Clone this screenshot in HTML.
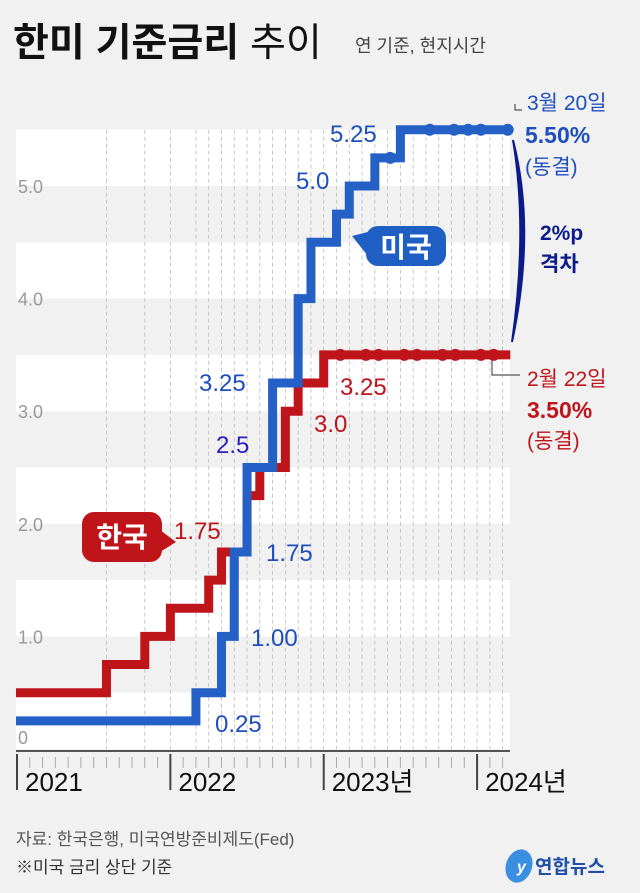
<!DOCTYPE html>
<html><head><meta charset="utf-8">
<style>
html,body{margin:0;padding:0;background:#f1f1f1;}
svg{display:block;font-family:"Liberation Sans","Noto Sans CJK KR",sans-serif;}
</style></head>
<body>
<svg id="c" width="640" height="893" viewBox="0 0 640 893">
<rect width="640" height="893" fill="#f1f1f1"/>
<g>
<text x="13" y="56" font-size="39" font-weight="bold" fill="#111">한미 기준금리 <tspan font-weight="normal">추이</tspan></text>
<text x="355" y="52" font-size="18" fill="#444">연 기준, 현지시간</text>
</g>
<g id="bands"></g>
<g id="grid"></g>
<g id="yt"></g>
<g id="xa"></g>
<g id="series"></g>
<g>
<text x="330" y="142" font-size="24" fill="#1f4fbf">5.25</text>
<text x="296" y="189" font-size="24" fill="#1f4fbf">5.0</text>
<text x="199" y="391" font-size="24" fill="#1f4fbf">3.25</text>
<text x="216" y="453" font-size="24" fill="#2a1fbf">2.5</text>
<text x="266" y="561" font-size="24" fill="#1f4fbf">1.75</text>
<text x="251" y="646" font-size="24" fill="#1f4fbf">1.00</text>
<text x="215" y="732" font-size="24" fill="#1f4fbf">0.25</text>
<text x="340" y="395" font-size="24" fill="#c0141b">3.25</text>
<text x="314" y="432" font-size="24" fill="#c0141b">3.0</text>
<text x="174" y="539" font-size="24" fill="#c0141b">1.75</text>
<g>
<path d="M352,236 L368,232 L368,256 Z" fill="#1f5fc4"/>
<rect x="366" y="226" width="80" height="40" rx="12" fill="#1f5fc4"/>
<text x="406" y="257" font-size="28" font-weight="bold" fill="#fff" text-anchor="middle">미국</text>
</g>
<g>
<path d="M176,542 L160,530 L160,552 Z" fill="#c0141b"/>
<rect x="82" y="512" width="80" height="50" rx="12" fill="#c0141b"/>
<text x="122" y="547" font-size="28" font-weight="bold" fill="#fff" text-anchor="middle">한국</text>
</g>
<path d="M515,104 L515,110 L522,110" fill="none" stroke="#555" stroke-width="1.2"/>
<text x="527" y="110" font-size="21" fill="#1f4fbf">3월 20일</text>
<text x="525" y="143" font-size="23" font-weight="bold" fill="#1f4fbf">5.50%</text>
<text x="525" y="174" font-size="21" fill="#1f4fbf">(동결)</text>
<path d="M513,140 Q536,230 512,342 Q528,230 513,140 Z" fill="#0c1a8a" stroke="#0c1a8a" stroke-width="2"/>
<text x="540" y="240" font-size="21" font-weight="bold" fill="#0c1a8a">2%p</text>
<text x="540" y="271" font-size="21" font-weight="bold" fill="#0c1a8a">격차</text>
<path d="M492,360 L492,375 L520,375" fill="none" stroke="#555" stroke-width="1.2"/>
<text x="527" y="386" font-size="21" fill="#c0141b">2월 22일</text>
<text x="527" y="418" font-size="23" font-weight="bold" fill="#c0141b">3.50%</text>
<text x="527" y="448" font-size="21" fill="#c0141b">(동결)</text>
</g>
<g>
<text x="16" y="845" font-size="17" fill="#555">자료: 한국은행, 미국연방준비제도(Fed)</text>
<text x="16" y="873" font-size="17" fill="#333">※미국 금리 상단 기준</text>
<g>
<ellipse cx="519" cy="866" rx="13" ry="17" fill="#3a8fe0" transform="rotate(20 519 866)"/>
<text x="517" y="872" font-size="16" font-style="italic" fill="#fff" font-weight="bold">y</text>
<text x="535" y="873" font-size="19" font-weight="bold" fill="#1f4fa6">연합뉴스</text>
</g>
</g>
</svg>
<script>
const yTicks=[0,1.0,2.0,3.0,4.0,5.0];
const yTickLabels=["0","1.0","2.0","3.0","4.0","5.0"];
const years=["2021","2022","2023년","2024년"];
// months since Jan 2021, rate (%)
const krMonths=[0,7,10,12,15,16,18,19,21,22,24];
const krRates=[0.5,0.75,1.0,1.25,1.5,1.75,2.25,2.5,3.0,3.25,3.5];
const usMonths=[0,14,16,17,18,20,22,23,25,26,28,30];
const usRates=[0.25,0.5,1.0,1.75,2.5,3.25,4.0,4.5,4.75,5.0,5.25,5.5];
const krHoldMonths=[25.3,27.3,28.3,30.3,31.3,33.3,34.3,36.3,37.3];
const usHoldMonths=[29.2,32.3,34.2,35.3,36.3,38.4];
const usDotRate=[5.25,5.5,5.5,5.5,5.5,5.5];
const gridMonths=[7,10,12,14,15,16,17,18,19,20,21,22,23,24,25,26,27,28,29,30,31,32,33,34,35,36,37,38];
const endMonth=38.6;
const NS="http://www.w3.org/2000/svg";
const X=m=>17+m*12.78;
const Y=v=>749-112.6*v;
function mk(p,t,a){const e=document.createElementNS(NS,t);for(const k in a)e.setAttribute(k,a[k]);p.appendChild(e);return e;}
const bands=document.getElementById('bands');
for(let v=0;v<5.5;v+=1){
 const r=mk(bands,'rect',{x:16,y:Y(v+0.5),width:494,height:Y(v)-Y(v+0.5),fill:'#ffffff'});
 
 
}
const grid=document.getElementById('grid');
gridMonths.forEach(m=>{
 const l=mk(grid,'line',{x1:X(m),x2:X(m),y1:Y(5.5),y2:749,stroke:'#bbb','stroke-width':0.8,'stroke-dasharray':'4 3'});
 
 
});
const yt=document.getElementById('yt');
yTicks.forEach((v,i)=>{
 const t=mk(yt,'text',{x:18,y:Y(v)+7-(v===0?12:0),'font-size':18,fill:'#999'});
 t.textContent=yTickLabels[i];
 
 
});
const xa=document.getElementById('xa');
const ax=mk(xa,'line',{x1:16,x2:510,y1:751,y2:751,stroke:'#555','stroke-width':2});


for(let m=0;m<=38;m++){
 const yr=m%12===0;
 const l=mk(xa,'line',{x1:X(m),x2:X(m),y1:yr?754:757,y2:yr?790:768,stroke:yr?'#444':'#aaa','stroke-width':yr?2:1});
 
 
}
years.forEach((y,i)=>{
 const t=mk(xa,'text',{x:X(i*12)+8,y:791,'font-size':26,fill:'#111'});
 t.textContent=y;
 
 
});
function stepPath(ms,rs){
 let d='M'+16+','+Y(rs[0]);
 for(let i=1;i<ms.length;i++){d+=' H'+X(ms[i])+' V'+Y(rs[i]);}
 d+=' H'+X(endMonth);return d;
}
const s=document.getElementById('series');
const kp=mk(s,'path',{d:stepPath(krMonths,krRates),fill:'none',stroke:'#c0141b','stroke-width':9});


const up=mk(s,'path',{d:stepPath(usMonths,usRates),fill:'none',stroke:'#2460c6','stroke-width':9});


krHoldMonths.forEach(m=>{
 const c=mk(s,'circle',{cx:X(m),cy:Y(krRates[krRates.length-1]),r:6,fill:'#c0141b'});
 
 
});
usHoldMonths.forEach((m,i)=>{
 const c=mk(s,'circle',{cx:X(m),cy:Y(usDotRate[i]),r:6,fill:'#2460c6'});
 
 
});
</script>
</body></html>
